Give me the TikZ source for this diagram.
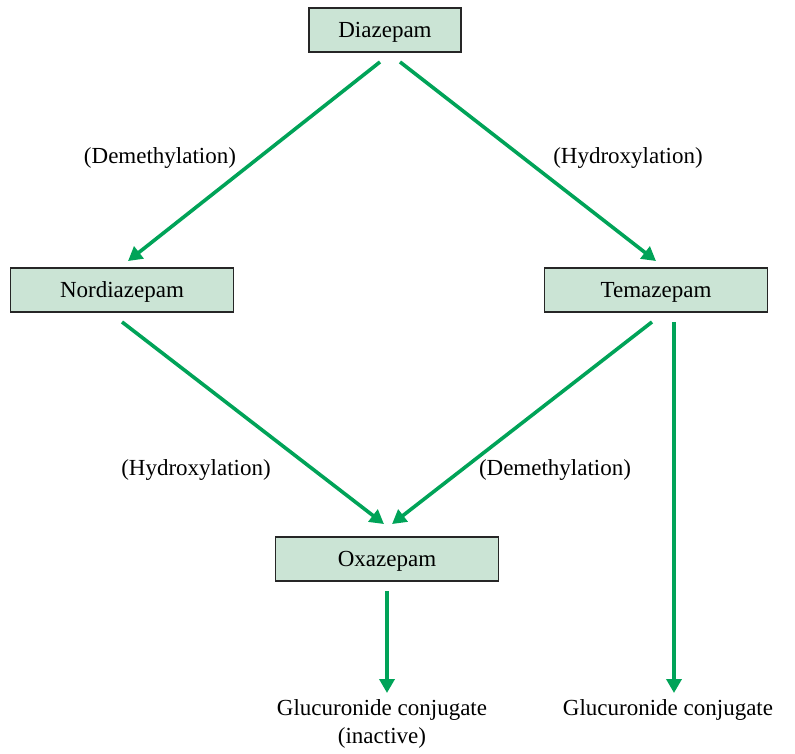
\documentclass[tikz,border=0pt]{standalone}
\usepackage{fontspec}
\setmainfont{Liberation Serif}
\usetikzlibrary{arrows.meta,calc}
\definecolor{drugfill}{RGB}{203,228,213}
\definecolor{pathgreen}{RGB}{0,163,88}

\begin{document}
\begin{tikzpicture}[
    x=1pt, y=1pt,
    font=\fontsize{23}{28}\selectfont,
    drugbox/.style={draw=black!85, line width=1.9pt, fill=drugfill,
                    minimum width=223pt, minimum height=44pt, inner sep=0pt,
                    text depth=0pt},
    stepname/.style={inner sep=0pt, align=center},
    product/.style={inner sep=0pt, align=center, anchor=north},
    arrow/.style={-{Triangle[length=14pt,width=15pt]},
                  line width=3.6pt, draw=pathgreen}
]
\useasboundingbox (0,0) rectangle (795,-754);

\node[drugbox, minimum width=152pt] (diaz) at (385,-30) {Diazepam};
\node[drugbox] (nord) at (122,-290) {Nordiazepam};
\node[drugbox] (temaz) at (656,-290) {Temazepam};
\node[drugbox] (oxaz) at (387,-559) {Oxazepam};

\node[product] (glucA) at (382,-699) {Glucuronide conjugate\\(inactive)};
\node[product] (glucB) at (668,-699) {Glucuronide conjugate};

\node[stepname] (demethA) at (160,-158) {(Demethylation)};
\node[stepname] (hydroxA) at (628,-158) {(Hydroxylation)};
\node[stepname] (hydroxB) at (196,-470) {(Hydroxylation)};
\node[stepname] (demethB) at (555,-470) {(Demethylation)};

\draw[arrow] ([xshift=-5pt,yshift=-9pt]diaz.south) -- ([xshift=6pt,yshift=6pt]nord.north);
\draw[arrow] ([xshift=15pt,yshift=-9pt]diaz.south) -- ([yshift=6pt]temaz.north);
\draw[arrow] ([yshift=-9pt]nord.south) -- ([xshift=-3pt,yshift=12pt]oxaz.north);
\draw[arrow] ([xshift=-4pt,yshift=-9pt]temaz.south) -- ([xshift=5pt,yshift=12pt]oxaz.north);
\draw[arrow] ([yshift=-9pt]oxaz.south) -- ($(oxaz.south |- glucA.north)+(0,6)$);
\draw[arrow] ([xshift=18pt,yshift=-9pt]temaz.south) -- ($(temaz.south |- glucB.north)+(18,6)$);

\end{tikzpicture}
\end{document}
